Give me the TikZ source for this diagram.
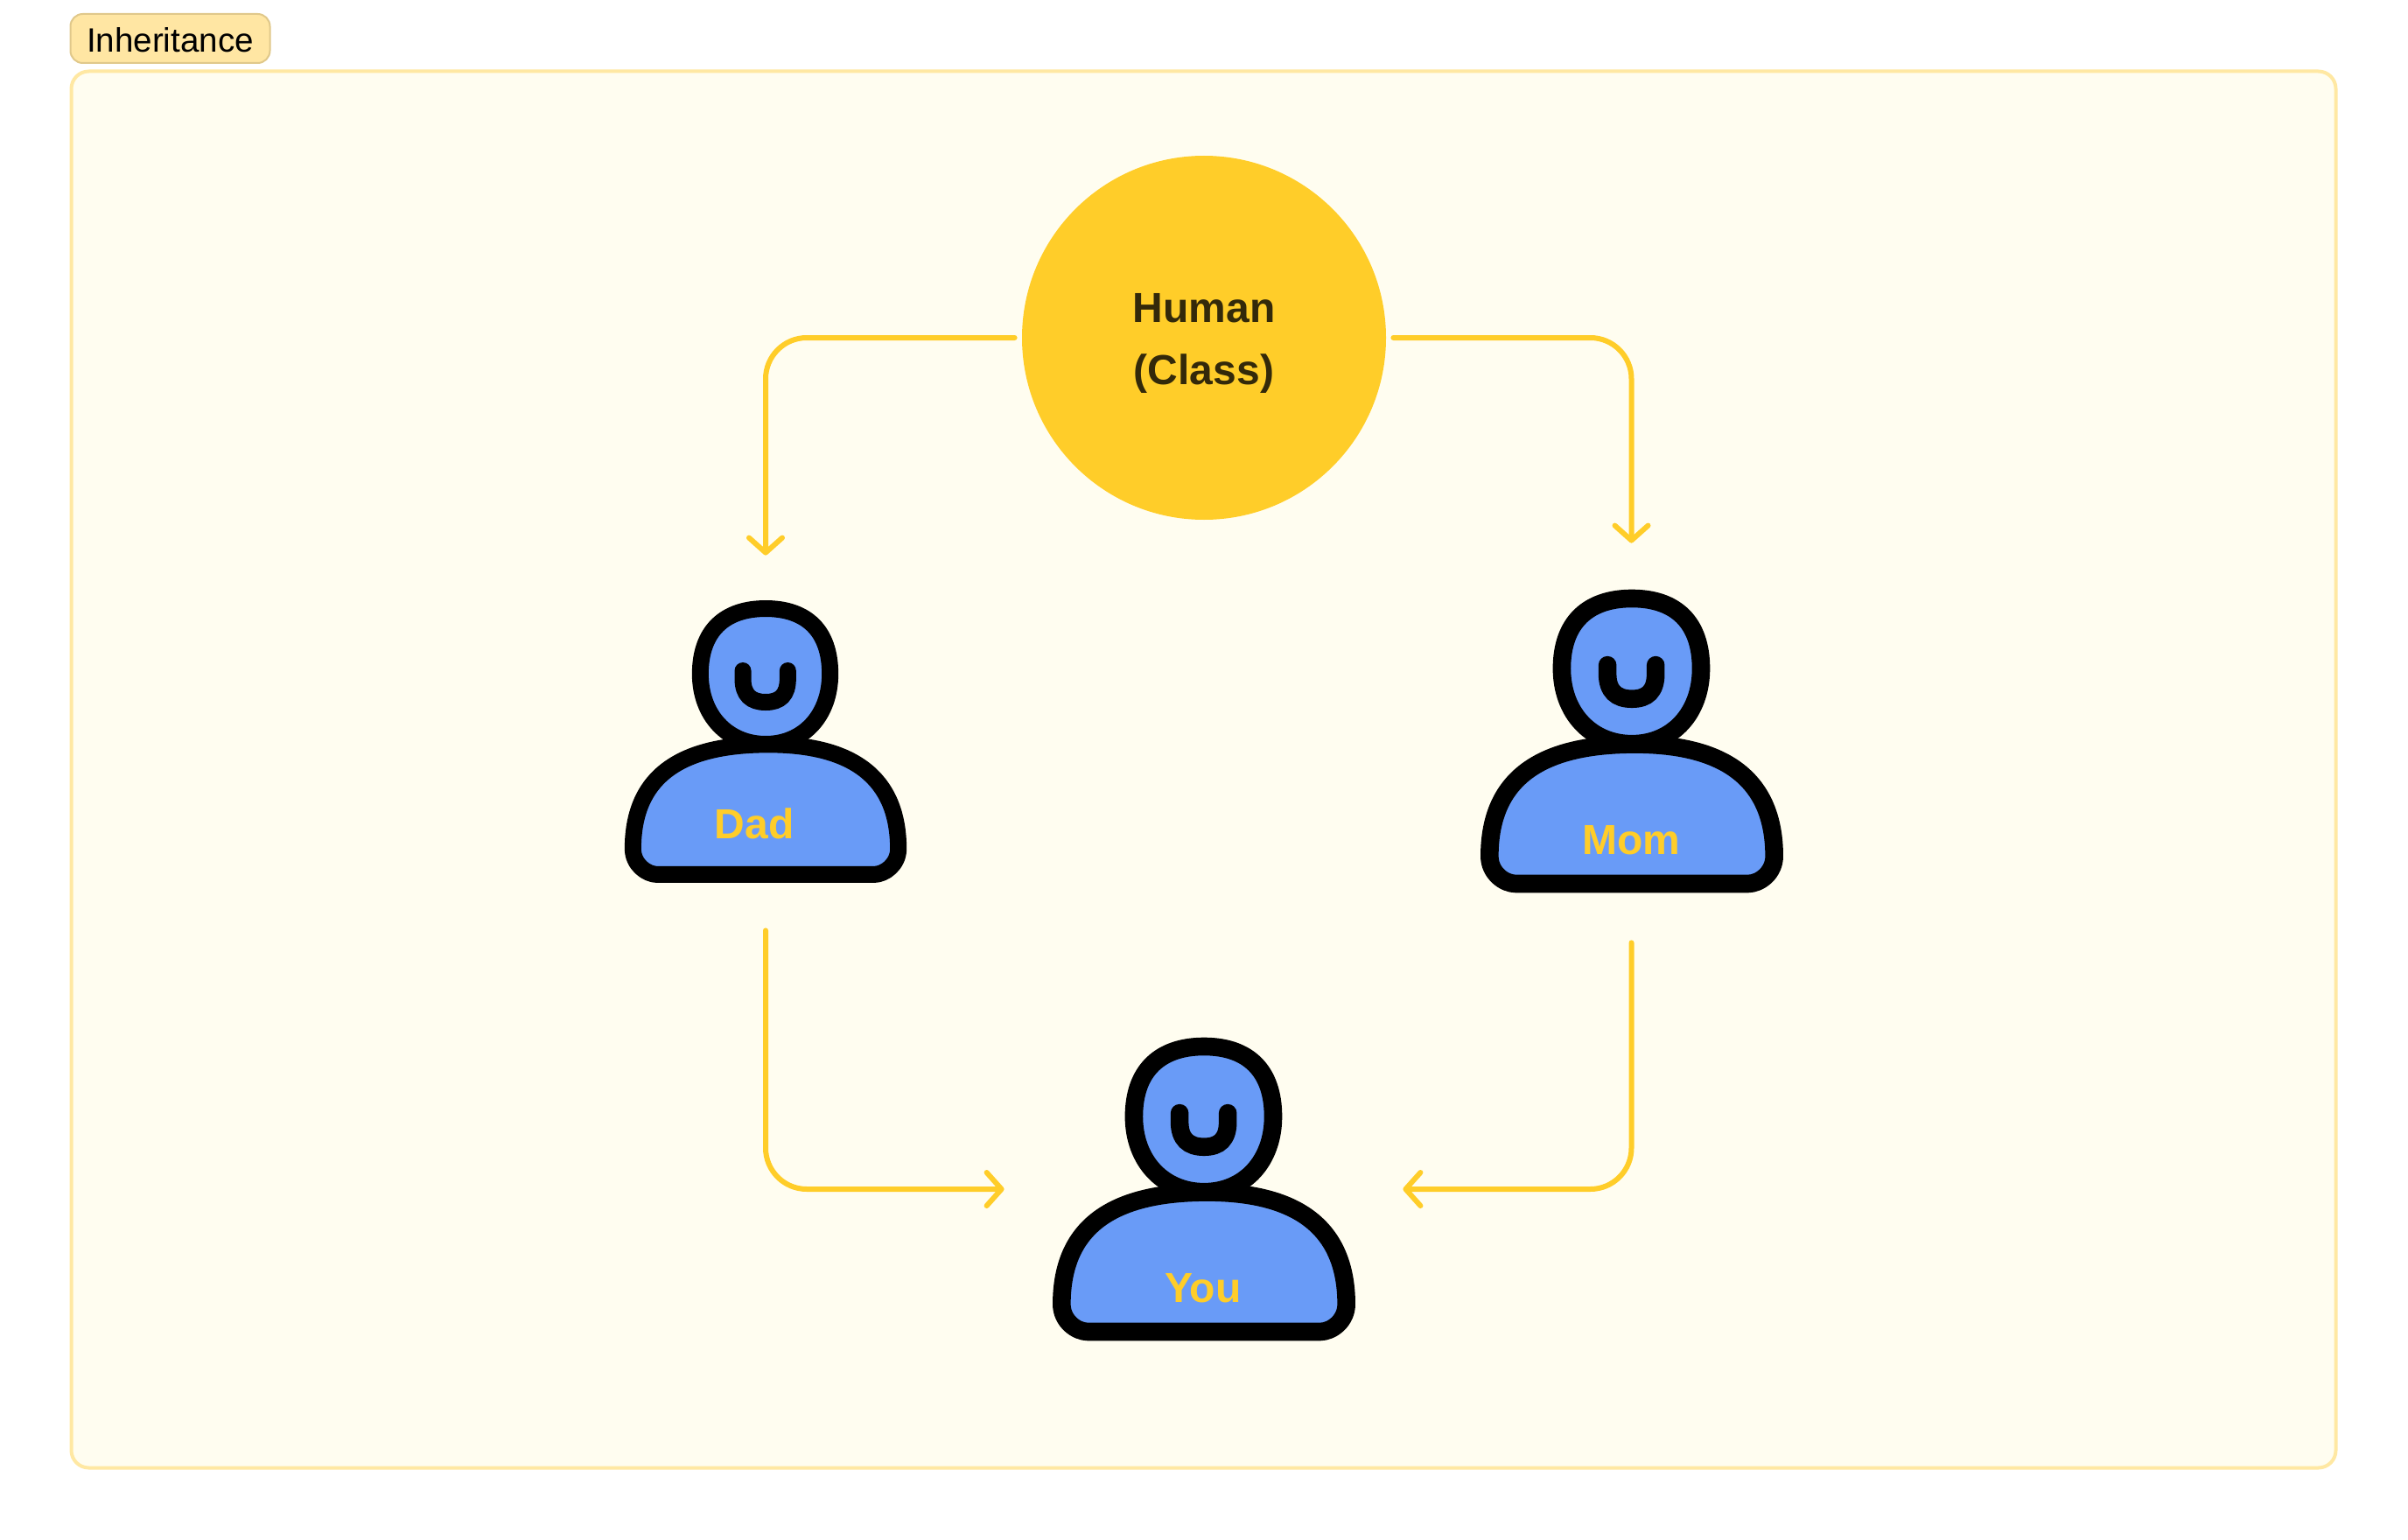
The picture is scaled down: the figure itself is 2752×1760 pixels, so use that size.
\documentclass[tikz,border=0pt]{standalone}
\usepackage{fontspec}
\setmainfont{Liberation Sans}
\definecolor{panelFill}{HTML}{FFFDF0}
\definecolor{panelEdge}{HTML}{FFE8A3}
\definecolor{tagFill}{HTML}{FFE6A3}
\definecolor{tagEdge}{HTML}{E0C88A}
\definecolor{classYellow}{HTML}{FFCD29}
\definecolor{classText}{HTML}{33290A}
\definecolor{personBlue}{HTML}{699BF7}
\usetikzlibrary{arrows.meta}
\tikzset{
	panelbox/.style={
		draw=panelEdge,
		fill=panelFill,
		line width=2pt,
		rounded corners=10pt
	},
	tagbox/.style={
		draw=tagEdge,
		fill=tagFill,
		line width=1pt,
		rounded corners=7pt,
		inner sep=0pt,
		minimum width=114pt,
		minimum height=28pt,
		text height=16pt,
		text depth=0pt,
		text=black,
		font=\fontsize{19.3}{22}\selectfont
	},
	classcircle/.style={
		circle,
		fill=classYellow,
		minimum size=208pt,
		inner sep=0pt
	},
	classname/.style={
		inner sep=0pt,
		align=center,
		text=classText,
		font=\fontsize{24}{35.5}\selectfont\bfseries
	},
	personslot/.style={
		inner sep=0pt
	},
	personlabel/.style={
		anchor=base,
		inner sep=0pt,
		text=classYellow,
		font=\fontsize{24}{28}\selectfont\bfseries
	},
	inheritFlow/.style={
		draw=classYellow,
		line width=3pt,
		rounded corners=23.5pt,
		line cap=round,
		-{Straight Barb[length=8.5pt,width=19pt,line width=3pt,round]}
	},
	pics/person/.style={
		code={
			\draw[fill=personBlue,line join=round]
				(-224,-232) .. controls (-224,-380) and (-140,-456) .. (0,-456)
				.. controls (140,-456) and (221,-380) .. (221,-232)
				.. controls (221,-90) and (130,9) .. (0,9)
				.. controls (-130,9) and (-224,-90) .. (-224,-232) -- cycle;
			\draw[fill=personBlue,line join=round]
				(-455,368) .. controls (-455,110) and (-280,10) .. (10,10)
				.. controls (300,10) and (455,125) .. (455,368)
				.. controls (455,420) and (410,456) .. (370,456)
				-- (-370,456)
				.. controls (-410,456) and (-455,420) .. (-455,368) -- cycle;
			\draw[line cap=round]
				(-78,-243) -- (-78,-215)
				.. controls (-78,-160) and (-50,-135) .. (0,-135)
				.. controls (50,-135) and (76,-160) .. (76,-215)
				-- (76,-243);
		}
	}
}

\begin{document}
\begin{tikzpicture}[x=0.5pt,y=-0.5pt]
	\useasboundingbox (0,0) rectangle (2752,1760);

	% Panel and tag
	\node[panelbox,minimum width=1294pt,minimum height=798pt] (panel) at (1375.5,879.5) {};
	\node[tagbox] (tag) at (194.5,44) {Inheritance};

	% Class
	\node[classcircle] (human) at (1376,386) {};
	\node[classname] (humanname) at (1376,392) {Human\\(Class)};

	% Persons
	\pic[scale=0.3333,line width=9.5pt] at (875,847.5) {person};
	\pic[scale=0.3575,line width=10.3pt] at (1865,847) {person};
	\pic[scale=0.3575,line width=10.3pt] at (1376,1359) {person};
	\node[personslot,minimum width=161pt,minimum height=161.5pt] (dad) at (875,847.5) {};
	\node[personslot,minimum width=173pt,minimum height=173pt] (mom) at (1864.5,847) {};
	\node[personslot,minimum width=173pt,minimum height=173pt] (you) at (1376,1359) {};

	\node[personlabel] (dadname) at (862,958) {Dad};
	\node[personlabel] (momname) at (1864,976) {Mom};
	\node[personlabel] (youname) at (1375,1488) {You};

	% Flows
	\draw[inheritFlow,shorten <=4pt,shorten >=25.5pt] (human) -| (dad);
	\draw[inheritFlow,shorten <=4pt,shorten >=26.5pt] (human) -| (mom);
	\draw[inheritFlow,shorten <=27pt,shorten >=27.5pt] (dad) |- (you);
	\draw[inheritFlow,shorten <=28.5pt,shorten >=27pt] (mom) |- (you);
\end{tikzpicture}
\end{document}
